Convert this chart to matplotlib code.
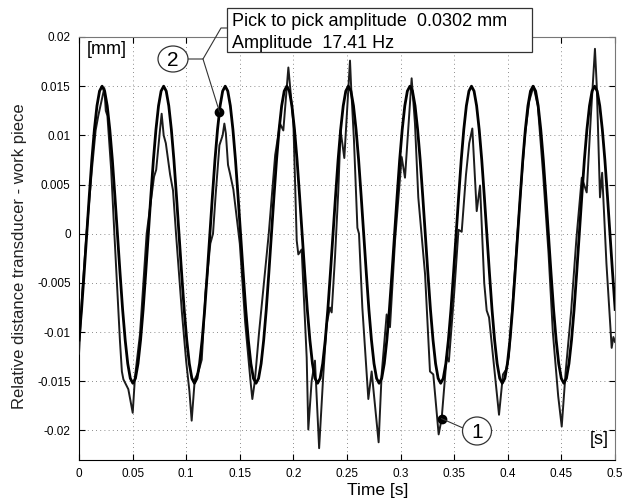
import numpy as np
import matplotlib.pyplot as plt
from matplotlib.patches import Ellipse, Rectangle
from matplotlib.lines import Line2D

plt.rcParams['font.family'] = ['Liberation Sans', 'DejaVu Sans']

# fitted sine (17.41 Hz), read every fit_dt seconds from t = 0
fit_dt = 0.002393
fit_mm = [
    -0.0108, -0.0077, -0.0040, -0.0001, 0.0038, 0.0075, 0.0106, 0.0130, 0.0145, 0.0150, 0.0145, 0.0130,
    0.0106, 0.0075, 0.0038, -0.0001, -0.0040, -0.0077, -0.0108, -0.0132, -0.0147, -0.0152, -0.0147, -0.0132,
    -0.0108, -0.0077, -0.0040, -0.0001, 0.0038, 0.0075, 0.0106, 0.0130, 0.0145, 0.0150, 0.0145, 0.0130,
    0.0106, 0.0075, 0.0038, -0.0001, -0.0040, -0.0077, -0.0108, -0.0132, -0.0147, -0.0152, -0.0147, -0.0132,
    -0.0108, -0.0077, -0.0040, -0.0001, 0.0038, 0.0075, 0.0106, 0.0130, 0.0145, 0.0150, 0.0145, 0.0130,
    0.0106, 0.0075, 0.0038, -0.0001, -0.0040, -0.0077, -0.0108, -0.0132, -0.0147, -0.0152, -0.0147, -0.0132,
    -0.0108, -0.0077, -0.0040, -0.0001, 0.0038, 0.0075, 0.0106, 0.0130, 0.0145, 0.0150, 0.0145, 0.0130,
    0.0106, 0.0075, 0.0038, -0.0001, -0.0040, -0.0077, -0.0108, -0.0132, -0.0147, -0.0152, -0.0147, -0.0132,
    -0.0108, -0.0077, -0.0040, -0.0001, 0.0038, 0.0075, 0.0106, 0.0130, 0.0145, 0.0150, 0.0145, 0.0130,
    0.0106, 0.0075, 0.0038, -0.0001, -0.0040, -0.0077, -0.0108, -0.0132, -0.0147, -0.0152, -0.0147, -0.0132,
    -0.0108, -0.0077, -0.0040, -0.0001, 0.0038, 0.0075, 0.0106, 0.0130, 0.0145, 0.0150, 0.0145, 0.0130,
    0.0106, 0.0075, 0.0038, -0.0001, -0.0040, -0.0077, -0.0108, -0.0132, -0.0147, -0.0152, -0.0147, -0.0132,
    -0.0108, -0.0077, -0.0040, -0.0001, 0.0038, 0.0075, 0.0106, 0.0130, 0.0145, 0.0150, 0.0145, 0.0130,
    0.0106, 0.0075, 0.0038, -0.0001, -0.0040, -0.0077, -0.0108, -0.0132, -0.0147, -0.0152, -0.0147, -0.0132,
    -0.0108, -0.0077, -0.0040, -0.0001, 0.0038, 0.0075, 0.0106, 0.0130, 0.0145, 0.0150, 0.0145, 0.0130,
    0.0106, 0.0075, 0.0038, -0.0001, -0.0040, -0.0077, -0.0108, -0.0132, -0.0147, -0.0152, -0.0147, -0.0132,
    -0.0108, -0.0077, -0.0040, -0.0001, 0.0038, 0.0075, 0.0106, 0.0130, 0.0145, 0.0150, 0.0145, 0.0130,
    0.0106, 0.0075, 0.0038, -0.0001, -0.0040, -0.0077,
]

meas_t = [
    0.0000, 0.0030, 0.0070, 0.0120, 0.0155, 0.0180, 0.0236, 0.0250, 0.0265, 0.0300,
    0.0330, 0.0382, 0.0400, 0.0414, 0.0460, 0.0501, 0.0522, 0.0569, 0.0631, 0.0700,
    0.0720, 0.0755, 0.0771, 0.0790, 0.0810, 0.0850, 0.0877, 0.0905, 0.0960, 0.1000,
    0.1030, 0.1051, 0.1080, 0.1115, 0.1145, 0.1180, 0.1225, 0.1250, 0.1275, 0.1310,
    0.1340, 0.1356, 0.1370, 0.1390, 0.1409, 0.1440, 0.1500, 0.1550, 0.1600, 0.1617,
    0.1640, 0.1680, 0.1770, 0.1830, 0.1875, 0.1906, 0.1953, 0.1969, 0.2000, 0.2031,
    0.2046, 0.2077, 0.2124, 0.2139, 0.2170, 0.2201, 0.2240, 0.2279, 0.2310, 0.2341,
    0.2357, 0.2388, 0.2419, 0.2440, 0.2475, 0.2528, 0.2540, 0.2565, 0.2597, 0.2612,
    0.2643, 0.2699, 0.2730, 0.2795, 0.2823, 0.2870, 0.2901, 0.2948, 0.3010, 0.3041,
    0.3103, 0.3134, 0.3165, 0.3228, 0.3274, 0.3305, 0.3355, 0.3383, 0.3430, 0.3450,
    0.3500, 0.3540, 0.3570, 0.3610, 0.3640, 0.3669, 0.3710, 0.3741, 0.3780, 0.3803,
    0.3825, 0.3918, 0.3955, 0.3985, 0.4010, 0.4090, 0.4160, 0.4200, 0.4240, 0.4280,
    0.4330, 0.4380, 0.4420, 0.4470, 0.4503, 0.4540, 0.4590, 0.4640, 0.4690, 0.4736,
    0.4775, 0.4813, 0.4830, 0.4860, 0.4880, 0.4920, 0.4969, 0.4985, 0.5000,
]
meas_mm = [
    -0.0122, -0.0060, 0.0000, 0.0065, 0.0105, 0.0120, 0.0148, 0.0125, 0.0120, 0.0065,
    0.0000, -0.0109, -0.0140, -0.0148, -0.0158, -0.0182, -0.0146, -0.0102, 0.0000, 0.0058,
    0.0065, 0.0105, 0.0122, 0.0100, 0.0092, 0.0060, 0.0044, 0.0000, -0.0080, -0.0130,
    -0.0160, -0.0190, -0.0148, -0.0140, -0.0128, -0.0060, -0.0010, 0.0000, 0.0040, 0.0090,
    0.0100, 0.0112, 0.0102, 0.0070, 0.0061, 0.0045, -0.0010, -0.0090, -0.0150, -0.0168,
    -0.0150, -0.0100, 0.0000, 0.0080, 0.0112, 0.0105, 0.0169, 0.0150, 0.0112, -0.0007,
    -0.0021, -0.0016, -0.0126, -0.0199, -0.0150, -0.0129, -0.0218, -0.0143, -0.0092, -0.0075,
    -0.0080, -0.0024, 0.0044, 0.0105, 0.0077, 0.0176, 0.0146, 0.0095, 0.0006, 0.0000,
    -0.0075, -0.0168, -0.0140, -0.0212, -0.0143, -0.0082, -0.0095, -0.0007, 0.0078, 0.0057,
    0.0158, 0.0112, 0.0037, -0.0041, -0.0140, -0.0143, -0.0204, -0.0188, -0.0125, -0.0130,
    -0.0060, 0.0004, 0.0002, 0.0060, 0.0092, 0.0107, 0.0023, 0.0049, -0.0050, -0.0078,
    -0.0085, -0.0184, -0.0143, -0.0138, -0.0125, 0.0000, 0.0100, 0.0135, 0.0150, 0.0130,
    0.0060, -0.0020, -0.0100, -0.0165, -0.0196, -0.0140, -0.0080, -0.0005, 0.0057, 0.0042,
    0.0120, 0.0188, 0.0150, 0.0037, 0.0062, -0.0030, -0.0116, -0.0105, -0.0110,
]

x_ticks = [0, 0.05, 0.1, 0.15, 0.2, 0.25, 0.3, 0.35, 0.4, 0.45, 0.5]
x_labels = ['0', '0.05', '0.1', '0.15', '0.2', '0.25', '0.3', '0.35', '0.4', '0.45', '0.5']
y_ticks = [0.02, 0.015, 0.01, 0.005, 0, -0.005, -0.01, -0.015, -0.02]
y_labels = ['0.02', '0.015', '0.01', '0.005', '0', '-0.005', '-0.01', '-0.015', '-0.02']

box_line1 = 'Pick to pick amplitude  0.0302 mm'
box_line2 = 'Amplitude  17.41 Hz'
mark1 = (0.3383, -0.0188)   # point "1", on the measured trace
mark2 = (0.1310, 0.0124)    # point "2", on the fitted sine

fit_t = np.arange(len(fit_mm)) * fit_dt

W, H = 633, 501
fig = plt.figure(figsize=(W / 100, H / 100), dpi=100)
ax = fig.add_axes([79 / W, 1 - 460 / H, 536 / W, 423 / H])

ax.plot(meas_t, meas_mm, color='#1c1c1c', lw=1.4, zorder=3)
ax.plot(fit_t, fit_mm, color='k', lw=2.0, zorder=4)

ax.set_xlim(0, 0.5)
ax.set_ylim(-0.023, 0.02)
ax.set_xticks(x_ticks)
ax.set_xticklabels(x_labels)
ax.set_yticks(y_ticks)
ax.set_yticklabels(y_labels)
ax.tick_params(direction='in', top=True, right=True, length=4, labelsize=8.5, pad=6)
ax.grid(True, color='k', linestyle=(0, (1, 4)), lw=0.6, alpha=0.6)
for s in ['left', 'bottom']:
    ax.spines[s].set_color('k')
for s in ['top', 'right']:
    ax.spines[s].set_color('#777777')

ax.plot(*mark1, 'o', color='k', ms=6, zorder=6)
ax.plot(*mark2, 'o', color='k', ms=6, zorder=6)


def fig_xy(px, py):
    # pixel position (origin top-left) -> figure fraction
    return px / W, 1 - py / H


def data_px(pt):
    x, y = ax.transData.transform(pt)
    return x, H - y


def fig_line(xs, ys):
    pts = [fig_xy(x, y) for x, y in zip(xs, ys)]
    fig.add_artist(Line2D([p[0] for p in pts], [p[1] for p in pts],
                          transform=fig.transFigure, color='#333333', lw=0.8, zorder=6))


# text box
fig.add_artist(Rectangle(fig_xy(227, 52), 305 / W, 44 / H, transform=fig.transFigure,
                         fc='white', ec='#333333', lw=0.9, zorder=5))
fig.text(*fig_xy(232, 21), box_line1, fontsize=13, va='center', zorder=7)
fig.text(*fig_xy(232, 43), box_line2, fontsize=13, va='center', zorder=7)

# callout 2
m2x, m2y = data_px(mark2)
fig_line([188, 203, 221, 227], [59, 59, 28, 28])
fig_line([203, m2x], [59, m2y])
fig.add_artist(Ellipse(fig_xy(173, 59), 30 / W, 26 / H, transform=fig.transFigure,
                       fc='white', ec='#333333', lw=0.9, zorder=6))
fig.text(*fig_xy(173, 60), '2', fontsize=15, ha='center', va='center', zorder=7)

# callout 1
m1x, m1y = data_px(mark1)
fig_line([m1x, 463], [m1y, 428])
fig.add_artist(Ellipse(fig_xy(477, 431), 29 / W, 28 / H, transform=fig.transFigure,
                       fc='white', ec='#333333', lw=0.9, zorder=6))
fig.text(*fig_xy(477, 432), '1', fontsize=15, ha='center', va='center', zorder=7)

fig.text(*fig_xy(87, 49), '[mm]', fontsize=13, va='center')
fig.text(*fig_xy(609, 440), '[s]', fontsize=13, ha='right', va='center')
fig.text(*fig_xy(20, 256), 'Relative distance transducer - work piece', fontsize=12,
         rotation=90, ha='center', va='center', color='#222222')
fig.text(*fig_xy(378, 491), 'Time [s]', fontsize=12.5, ha='center', va='center')

fig.savefig('out.png', dpi=100)
